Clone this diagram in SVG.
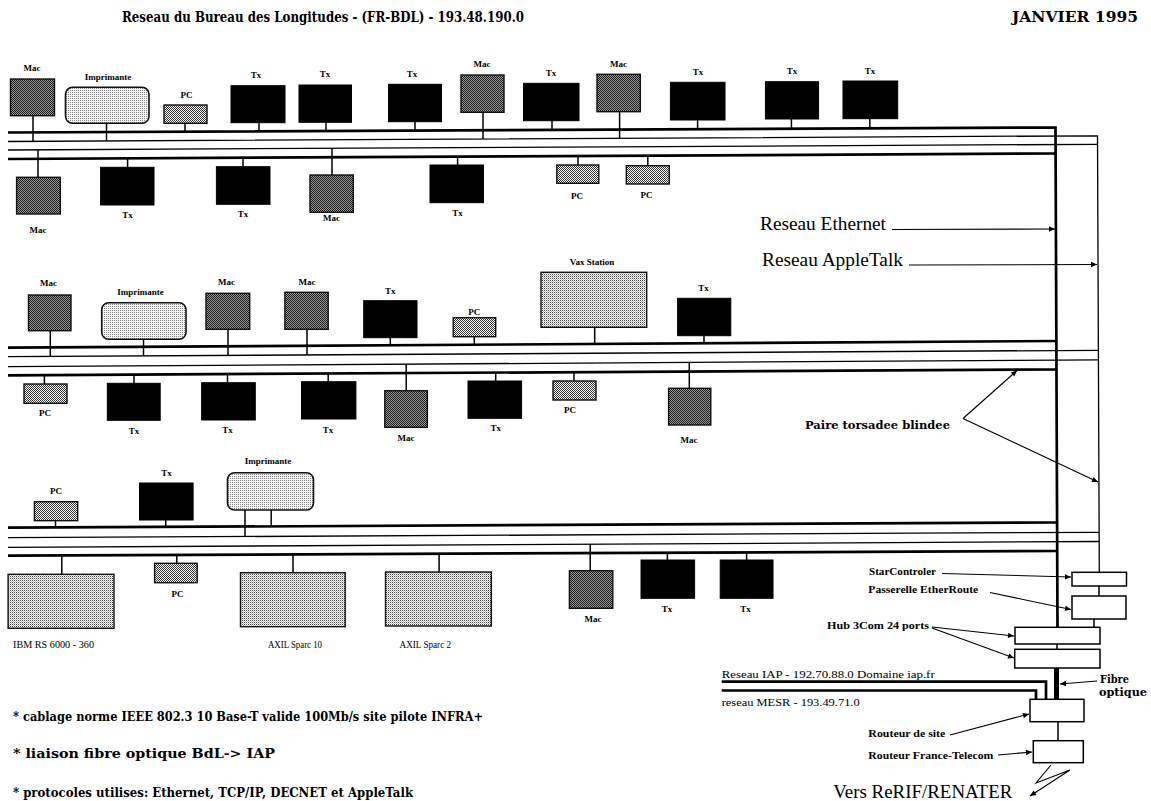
<svg xmlns="http://www.w3.org/2000/svg" width="1151" height="801" viewBox="0 0 1151 801">
<defs>
<pattern id="pMac" width="2" height="2" patternUnits="userSpaceOnUse"><rect width="2" height="2" fill="#9a9a9a"/><rect width="1" height="1" fill="#1a1a1a"/><rect x="1" y="1" width="1" height="1" fill="#1a1a1a"/></pattern>
<pattern id="pPC" width="2" height="2" patternUnits="userSpaceOnUse"><rect width="2" height="2" fill="#ffffff"/><rect width="1" height="1" fill="#333"/><rect x="1" y="1" width="1" height="1" fill="#333"/></pattern>
<pattern id="pImp" width="2" height="2" patternUnits="userSpaceOnUse"><rect width="2" height="2" fill="#f4f4f4"/><rect width="1" height="1" fill="#8a8a8a"/></pattern>
<pattern id="pWs" width="2" height="2" patternUnits="userSpaceOnUse"><rect width="2" height="2" fill="#ffffff"/><rect width="1" height="1" fill="#444"/><rect x="1" y="1" width="1" height="1" fill="#bbb"/></pattern>
<marker id="ah" viewBox="0 0 10 10" refX="10" refY="5" markerWidth="9" markerHeight="6" markerUnits="userSpaceOnUse" orient="auto"><path d="M0,0.5 L10,5 L0,9.5 z" fill="#000"/></marker>
</defs>
<style>
.tx{fill:#000;stroke:#000;stroke-width:1}
.mac{fill:url(#pMac);stroke:#111;stroke-width:1.4}
.pc{fill:url(#pPC);stroke:#111;stroke-width:1.4}
.imp{fill:url(#pImp);stroke:#111;stroke-width:1.6}
.ws{fill:url(#pWs);stroke:#111;stroke-width:1.4}
.box{fill:#fff;stroke:#000;stroke-width:1.5}
.st{stroke:#000;stroke-width:1.5;fill:none}
.eth{stroke:#000;stroke-width:2.7;fill:none;stroke-linejoin:miter}
.apl{stroke:#000;stroke-width:1.3;fill:none}
.arr{stroke:#000;stroke-width:1.1;fill:none;marker-end:url(#ah)}
.lbl{font-family:"Liberation Serif",serif;font-weight:bold;font-size:9px;text-anchor:middle;fill:#000}
.wsl{font-family:"Liberation Serif",serif;font-size:9.5px;fill:#000}
.big{font-family:"Liberation Serif",serif;font-size:19px;fill:#000}
.side{font-family:"Liberation Serif",serif;font-weight:bold;font-size:11px;fill:#000}
.net{font-family:"Liberation Serif",serif;font-size:11px;fill:#000}
.cs{font-family:"DejaVu Serif",serif;font-weight:bold;fill:#000}
</style>
<rect width="1151" height="801" fill="#fff"/>

<g id="titles">
<text class="cs" x="122" y="22" font-size="14" textLength="402" lengthAdjust="spacingAndGlyphs">Reseau du Bureau des Longitudes - (FR-BDL) - 193.48.190.0</text>
<text class="cs" x="1012" y="22" font-size="14" textLength="126" lengthAdjust="spacingAndGlyphs">JANVIER  1995</text>
</g>

<g id="connectors">
<polyline class="eth" points="8,132.5 1055.5,127.5 1057.5,627.3"/>
<polyline class="apl" points="8,141.5 1097.5,135.8 1099.3,572.3"/>
<line class="apl" x1="8" y1="150" x2="1098" y2="144.3"/>
<line class="eth" x1="8" y1="159" x2="1056" y2="153.5"/>
<line class="eth" x1="8" y1="347.7" x2="1056" y2="341"/>
<line class="apl" x1="8" y1="356.7" x2="1098.5" y2="350.3"/>
<line class="apl" x1="8" y1="366.7" x2="1098.5" y2="359.8"/>
<line class="eth" x1="8" y1="375.3" x2="1056.5" y2="369.5"/>
<line class="eth" x1="8" y1="527.7" x2="1056.5" y2="522.5"/>
<line class="apl" x1="8" y1="537.7" x2="1099" y2="532.3"/>
<line class="apl" x1="8" y1="547.3" x2="1099" y2="541.5"/>
<line class="eth" x1="8" y1="555.7" x2="1057" y2="551"/>

<line class="st" x1="33" y1="115.7" x2="33" y2="141.4"/>
<line class="st" x1="106.5" y1="123.3" x2="106.5" y2="141"/>
<line class="st" x1="185" y1="123.3" x2="185" y2="131.7"/>
<line class="st" x1="259" y1="122.7" x2="259" y2="131.3"/>
<line class="st" x1="326" y1="122.3" x2="326" y2="131"/>
<line class="st" x1="415" y1="121.7" x2="415" y2="130.6"/>
<line class="st" x1="483" y1="112.3" x2="483" y2="139"/>
<line class="st" x1="552" y1="120.7" x2="552" y2="129.9"/>
<line class="st" x1="619.6" y1="111.7" x2="619.6" y2="138.3"/>
<line class="st" x1="697.6" y1="120" x2="697.6" y2="129.2"/>
<line class="st" x1="791.4" y1="119" x2="791.4" y2="128.8"/>
<line class="st" x1="869.8" y1="118.7" x2="869.8" y2="128.4"/>
<line class="st" x1="38" y1="149.8" x2="38" y2="177.3"/>
<line class="st" x1="127.6" y1="158.4" x2="127.6" y2="167.3"/>
<line class="st" x1="243" y1="157.8" x2="243" y2="166.7"/>
<line class="st" x1="332" y1="148.3" x2="332" y2="175"/>
<line class="st" x1="457.6" y1="156.6" x2="457.6" y2="165"/>
<line class="st" x1="578" y1="156" x2="578" y2="165"/>
<line class="st" x1="647.8" y1="155.6" x2="647.8" y2="165.7"/>
<line class="st" x1="50.3" y1="330.7" x2="50.3" y2="356.5"/>
<line class="st" x1="143.5" y1="339.3" x2="143.5" y2="355.9"/>
<line class="st" x1="228" y1="329.3" x2="228" y2="355.4"/>
<line class="st" x1="307" y1="329.3" x2="307" y2="354.9"/>
<line class="st" x1="390.3" y1="337.7" x2="390.3" y2="345.3"/>
<line class="st" x1="474.3" y1="336.7" x2="474.3" y2="344.7"/>
<line class="st" x1="594.7" y1="327.3" x2="594.7" y2="344"/>
<line class="st" x1="704" y1="335.7" x2="704" y2="343.3"/>
<line class="st" x1="44.4" y1="375.1" x2="44.4" y2="384"/>
<line class="st" x1="134" y1="374.6" x2="134" y2="383.3"/>
<line class="st" x1="227.5" y1="374.1" x2="227.5" y2="382.7"/>
<line class="st" x1="328.2" y1="373.5" x2="328.2" y2="381.7"/>
<line class="st" x1="406.2" y1="364.2" x2="406.2" y2="390.7"/>
<line class="st" x1="495.7" y1="372.6" x2="495.7" y2="381"/>
<line class="st" x1="574" y1="372.2" x2="574" y2="381"/>
<line class="st" x1="689.3" y1="362.4" x2="689.3" y2="388.3"/>
<line class="st" x1="55.5" y1="520.7" x2="55.5" y2="527.5"/>
<line class="st" x1="165.7" y1="520" x2="165.7" y2="526.9"/>
<line class="st" x1="245" y1="510" x2="245" y2="536.5"/>
<line class="st" x1="271.2" y1="510" x2="271.2" y2="526.4"/>
<line class="st" x1="61.8" y1="555.5" x2="61.8" y2="574.3"/>
<line class="st" x1="176.8" y1="554.9" x2="176.8" y2="563.3"/>
<line class="st" x1="293" y1="554.4" x2="293" y2="572.7"/>
<line class="st" x1="439.1" y1="553.8" x2="439.1" y2="572"/>
<line class="st" x1="590.2" y1="544.2" x2="590.2" y2="570.7"/>
<line class="st" x1="667.4" y1="552.7" x2="667.4" y2="560"/>
<line class="st" x1="746.6" y1="552.4" x2="746.6" y2="560"/>

<line class="st" x1="1099" y1="586" x2="1099" y2="596"/>
<line class="st" x1="1094" y1="619" x2="1094" y2="627.3" stroke-width="2"/>
<line class="st" x1="1057" y1="644" x2="1057" y2="649.3" stroke-width="2"/>
<line x1="1056.5" y1="668" x2="1056.5" y2="699.3" stroke="#000" stroke-width="5"/>
<line class="st" x1="1058" y1="721.7" x2="1058" y2="740.7" stroke-width="2"/>
<polyline class="eth" points="721.7,681.7 1046,681.7 1046,699.3"/>
<polyline class="eth" points="721.7,690.5 1036,690.5 1036,699.3"/>

<line class="arr" x1="892" y1="229.5" x2="1055" y2="229"/>
<line class="arr" x1="909" y1="265" x2="1097" y2="264.5"/>
<line class="arr" x1="963" y1="418.5" x2="1017" y2="370.5"/>
<line class="arr" x1="963" y1="418.5" x2="1098" y2="482"/>
<line class="arr" x1="942" y1="573.5" x2="1071" y2="577"/>
<line class="arr" x1="990" y1="592.5" x2="1071" y2="609.5"/>
<line class="arr" x1="932" y1="627" x2="1014" y2="636"/>
<line class="arr" x1="932" y1="628" x2="1014" y2="658"/>
<line class="arr" x1="1097" y1="681" x2="1060" y2="684"/>
<line class="arr" x1="950" y1="735" x2="1029" y2="714"/>
<line class="arr" x1="998" y1="755" x2="1032" y2="752"/>
<polyline class="arr" points="1051,765 1036,783 1070,770 1030,796"/>
</g>

<g id="n-b1-mac1"><rect class="mac" x="10.5" y="79" width="44" height="36.7"/><text class="lbl" x="32" y="71">Mac</text></g>
<g id="n-b1-imp"><rect class="imp" x="65.5" y="87.3" width="83.5" height="36" rx="7"/><text class="lbl" x="108" y="79.5">Imprimante</text></g>
<g id="n-b1-pc1"><rect class="pc" x="164" y="105" width="43" height="18.3"/><text class="lbl" x="186.5" y="98">PC</text></g>
<g id="n-b1-tx1"><rect class="tx" x="231" y="85.7" width="54" height="37"/><text class="lbl" x="256" y="77.5">Tx</text></g>
<g id="n-b1-tx2"><rect class="tx" x="299" y="85" width="52.5" height="37.3"/><text class="lbl" x="325" y="77">Tx</text></g>
<g id="n-b1-tx3"><rect class="tx" x="388.5" y="84.3" width="53" height="37.4"/><text class="lbl" x="412" y="76.5">Tx</text></g>
<g id="n-b1-mac2"><rect class="mac" x="461" y="75" width="43" height="37.3"/><text class="lbl" x="482" y="67">Mac</text></g>
<g id="n-b1-tx4"><rect class="tx" x="523.5" y="83.3" width="55.5" height="37.4"/><text class="lbl" x="551" y="75.5">Tx</text></g>
<g id="n-b1-mac3"><rect class="mac" x="597" y="74.3" width="43.3" height="37.4"/><text class="lbl" x="618.5" y="66.5">Mac</text></g>
<g id="n-b1-tx5"><rect class="tx" x="670.4" y="82.3" width="54.6" height="37.7"/><text class="lbl" x="698" y="74.5">Tx</text></g>
<g id="n-b1-tx6"><rect class="tx" x="765.4" y="81.7" width="53.2" height="37.3"/><text class="lbl" x="792" y="73.5">Tx</text></g>
<g id="n-b1-tx7"><rect class="tx" x="843" y="81" width="54.7" height="37.7"/><text class="lbl" x="870" y="73.5">Tx</text></g>

<g id="n-b1-mac4"><rect class="mac" x="16.6" y="177.3" width="43.7" height="36.7"/><text class="lbl" x="38" y="232.5">Mac</text></g>
<g id="n-b1-tx8"><rect class="tx" x="100.6" y="167.3" width="53.4" height="37.7"/><text class="lbl" x="127.6" y="218">Tx</text></g>
<g id="n-b1-tx9"><rect class="tx" x="216.4" y="166.7" width="53.6" height="37.6"/><text class="lbl" x="243" y="217">Tx</text></g>
<g id="n-b1-mac5"><rect class="mac" x="310" y="175" width="43.3" height="37.3"/><text class="lbl" x="331.5" y="221">Mac</text></g>
<g id="n-b1-tx10"><rect class="tx" x="430" y="165" width="53.5" height="37.7"/><text class="lbl" x="457.6" y="215.5">Tx</text></g>
<g id="n-b1-pc2"><rect class="pc" x="556.8" y="165" width="42" height="18.3"/><text class="lbl" x="577" y="199">PC</text></g>
<g id="n-b1-pc3"><rect class="pc" x="626.3" y="165.7" width="43" height="18.3"/><text class="lbl" x="646.5" y="198">PC</text></g>

<g id="n-b2-mac1"><rect class="mac" x="28.5" y="295" width="42.5" height="35.7"/><text class="lbl" x="48.5" y="286">Mac</text></g>
<g id="n-b2-imp"><rect class="imp" x="101.7" y="302.7" width="84.3" height="36.6" rx="7"/><text class="lbl" x="140.6" y="295">Imprimante</text></g>
<g id="n-b2-mac2"><rect class="mac" x="206" y="293.3" width="43.7" height="36"/><text class="lbl" x="226.5" y="284.5">Mac</text></g>
<g id="n-b2-mac3"><rect class="mac" x="284.9" y="292.3" width="43.3" height="37"/><text class="lbl" x="307" y="284.5">Mac</text></g>
<g id="n-b2-tx1"><rect class="tx" x="363.7" y="300.7" width="53.3" height="37"/><text class="lbl" x="390.3" y="293.5">Tx</text></g>
<g id="n-b2-pc1"><rect class="pc" x="453.2" y="317.7" width="42.5" height="19"/><text class="lbl" x="474.3" y="315">PC</text></g>
<g id="n-b2-vax"><rect class="ws" x="541" y="272.3" width="105.7" height="55"/><text class="lbl" x="592" y="264.5">Vax Station</text></g>
<g id="n-b2-tx2"><rect class="tx" x="677.6" y="298.3" width="53.2" height="37.4"/><text class="lbl" x="703.5" y="291">Tx</text></g>

<g id="n-b2-pc2"><rect class="pc" x="24" y="384" width="43" height="19.3"/><text class="lbl" x="45" y="416">PC</text></g>
<g id="n-b2-tx3"><rect class="tx" x="107.3" y="383.3" width="52.9" height="37"/><text class="lbl" x="134" y="434">Tx</text></g>
<g id="n-b2-tx4"><rect class="tx" x="201.6" y="382.7" width="53.7" height="37.3"/><text class="lbl" x="227.5" y="433">Tx</text></g>
<g id="n-b2-tx5"><rect class="tx" x="301.5" y="381.7" width="54.4" height="37.3"/><text class="lbl" x="328" y="432.5">Tx</text></g>
<g id="n-b2-mac4"><rect class="mac" x="384.8" y="390.7" width="42.5" height="36.6"/><text class="lbl" x="406" y="440.5">Mac</text></g>
<g id="n-b2-tx6"><rect class="tx" x="468" y="381" width="53.6" height="37.3"/><text class="lbl" x="495.7" y="431">Tx</text></g>
<g id="n-b2-pc3"><rect class="pc" x="553" y="381" width="43" height="19"/><text class="lbl" x="570" y="413">PC</text></g>
<g id="n-b2-mac5"><rect class="mac" x="668.6" y="388.3" width="42.2" height="36.7"/><text class="lbl" x="689" y="443">Mac</text></g>

<g id="n-b3-pc1"><rect class="pc" x="34.4" y="501.7" width="43.3" height="19"/><text class="lbl" x="56" y="494">PC</text></g>
<g id="n-b3-tx1"><rect class="tx" x="139.5" y="483" width="53.6" height="37"/><text class="lbl" x="166.5" y="476">Tx</text></g>
<g id="n-b3-imp"><rect class="imp" x="227.5" y="472.7" width="86" height="37.3" rx="7"/><text class="lbl" x="268" y="464">Imprimante</text></g>

<g id="n-b3-ibm"><rect class="ws" x="8.1" y="574.3" width="105.9" height="54"/><text class="wsl" x="13" y="648" textLength="81" lengthAdjust="spacingAndGlyphs">IBM RS 6000 - 360</text></g>
<g id="n-b3-pc2"><rect class="pc" x="154.6" y="563.3" width="42.6" height="19.4"/><text class="lbl" x="177.5" y="596.5">PC</text></g>
<g id="n-b3-axil10"><rect class="ws" x="240.5" y="572.7" width="104.7" height="54"/><text class="wsl" x="268" y="648" textLength="54" lengthAdjust="spacingAndGlyphs">AXIL Sparc 10</text></g>
<g id="n-b3-axil2"><rect class="ws" x="385.5" y="572" width="105.8" height="54"/><text class="wsl" x="399.6" y="648" textLength="51.5" lengthAdjust="spacingAndGlyphs">AXIL Sparc 2</text></g>
<g id="n-b3-mac1"><rect class="mac" x="569.4" y="570.7" width="43.4" height="37.6"/><text class="lbl" x="593" y="621.5">Mac</text></g>
<g id="n-b3-tx2"><rect class="tx" x="641" y="560" width="53.6" height="38.3"/><text class="lbl" x="667" y="612">Tx</text></g>
<g id="n-b3-tx3"><rect class="tx" x="720.2" y="560" width="52.8" height="38.3"/><text class="lbl" x="745.5" y="612">Tx</text></g>

<g id="n-starcontroler"><rect class="box" x="1072" y="572.3" width="54.5" height="13.7"/><text class="side" x="869" y="574.5" textLength="67" lengthAdjust="spacingAndGlyphs">StarControler</text></g>
<g id="n-passerelle"><rect class="box" x="1072" y="596" width="54" height="23"/><text class="side" x="868.3" y="593" textLength="110" lengthAdjust="spacingAndGlyphs">Passerelle EtherRoute</text></g>
<g id="n-hub1"><rect class="box" x="1015" y="627.3" width="85" height="16.7"/><text class="side" x="827" y="629" textLength="102" lengthAdjust="spacingAndGlyphs">Hub  3Com 24 ports</text></g>
<g id="n-hub2"><rect class="box" x="1014.7" y="649.3" width="85.3" height="18.7"/></g>
<g id="n-routeur-site"><rect class="box" x="1030" y="699.3" width="54" height="22.4"/><text class="side" x="868.3" y="737" textLength="77" lengthAdjust="spacingAndGlyphs">Routeur de site</text></g>
<g id="n-routeur-ft"><rect class="box" x="1033.3" y="740.7" width="50" height="22"/><text class="side" x="868.3" y="759" textLength="125" lengthAdjust="spacingAndGlyphs">Routeur France-Telecom</text></g>

<g id="labels">
<text class="big" x="760" y="230" textLength="126" lengthAdjust="spacingAndGlyphs">Reseau Ethernet</text>
<text class="big" x="762" y="266" textLength="141" lengthAdjust="spacingAndGlyphs">Reseau AppleTalk</text>
<text class="cs" x="805" y="429" font-size="11" textLength="145" lengthAdjust="spacingAndGlyphs">Paire torsadee blindee</text>
<text class="cs" x="1100" y="683" font-size="11" textLength="29" lengthAdjust="spacingAndGlyphs">Fibre</text>
<text class="cs" x="1099" y="696" font-size="11" textLength="48" lengthAdjust="spacingAndGlyphs">optique</text>
<text class="net" x="721.7" y="678" textLength="213" lengthAdjust="spacingAndGlyphs">Reseau IAP - 192.70.88.0   Domaine iap.fr</text>
<text class="net" x="721.7" y="706" textLength="138" lengthAdjust="spacingAndGlyphs">reseau MESR - 193.49.71.0</text>
<text class="big" x="833.3" y="798" textLength="179" lengthAdjust="spacingAndGlyphs">Vers ReRIF/RENATER</text>
<text class="cs" x="13" y="721" font-size="12.5" textLength="470" lengthAdjust="spacingAndGlyphs">* cablage norme IEEE 802.3 10 Base-T valide 100Mb/s  site pilote INFRA+</text>
<text class="cs" x="13" y="758" font-size="12.5" textLength="262" lengthAdjust="spacingAndGlyphs">* liaison fibre optique BdL-&gt; IAP</text>
<text class="cs" x="13" y="797" font-size="12.5" textLength="400" lengthAdjust="spacingAndGlyphs">* protocoles utilises: Ethernet, TCP/IP, DECNET et AppleTalk</text>
</g>
</svg>
